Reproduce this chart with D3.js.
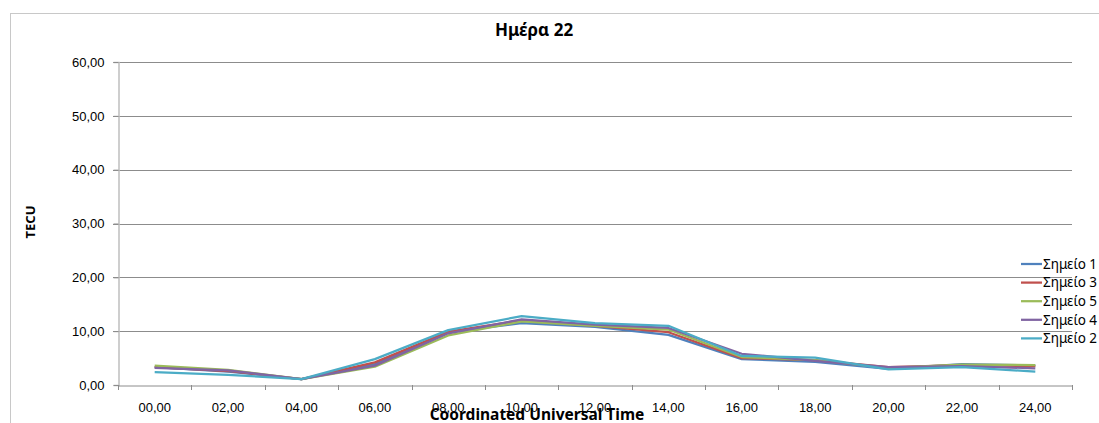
<!DOCTYPE html>
<html>
<head>
<meta charset="utf-8">
<script src="https://cdn.jsdelivr.net/npm/d3@7"></script>
<style>
  body { margin: 0; background: #fff; }
  svg { display: block; font-family: "Noto Sans", "Open Sans", sans-serif; }
</style>
</head>
<body>
<div id="chart"></div>
<script>
const hours = ["00,00", "02,00", "04,00", "06,00", "08,00", "10,00", "12,00",
               "14,00", "16,00", "18,00", "20,00", "22,00", "24,00"]

const point1 = [3.3, 2.5, 1.1, 3.9, 9.8, 11.5, 10.8, 9.3, 4.8, 4.3, 3.0, 3.9, 3.6]
const point3 = [3.3, 2.6, 1.1, 4.2, 9.9, 12.0, 11.0, 9.8, 5.0, 4.6, 3.3, 3.7, 3.5]
const point5 = [3.6, 2.8, 1.1, 3.4, 9.2, 11.8, 11.0, 10.3, 5.2, 4.6, 3.2, 3.8, 3.7]
const point4 = [3.2, 2.7, 1.1, 3.6, 9.6, 12.2, 11.2, 10.6, 5.8, 4.5, 3.3, 3.5, 3.1]
const point2 = [2.4, 1.9, 1.1, 4.8, 10.2, 12.8, 11.5, 11.0, 5.4, 5.1, 2.9, 3.3, 2.5]

const yTicks = [0, 10, 20, 30, 40, 50, 60]

const series = [
  { name: "Σημείο 1", color: "#4F81BD", values: point1 },
  { name: "Σημείο 3", color: "#C0504D", values: point3 },
  { name: "Σημείο 5", color: "#9BBB59", values: point5 },
  { name: "Σημείο 4", color: "#8064A2", values: point4 },
  { name: "Σημείο 2", color: "#4BACC6", values: point2 }
]

const width = 1099
const height = 423
const margin = { top: 62, right: 27, bottom: 38, left: 118 }

const svg = d3.select("#chart")
  .append("svg")
  .attr("width", width)
  .attr("height", height)

// Outer chart border
svg.append("rect")
  .attr("x", 10.5).attr("y", 13.5)
  .attr("width", 1100).attr("height", 420)
  .attr("fill", "none")
  .attr("stroke", "#c8c8c8")

const x = d3.scaleBand()
  .domain(hours)
  .range([margin.left, width - margin.right])

const y = d3.scaleLinear()
  .domain([0, 60])
  .range([height - margin.bottom, margin.top])

const fmt = d => d3.format(".2f")(d).replace(".", ",")

// Gridlines
svg.append("g")
  .selectAll("line")
  .data(yTicks.filter(d => d > 0))
  .join("line")
  .attr("x1", margin.left - 5)
  .attr("x2", width - margin.right)
  .attr("y1", d => Math.round(y(d)) + 0.5)
  .attr("y2", d => Math.round(y(d)) + 0.5)
  .attr("stroke", "#8c8c8c")

// Y axis
const yAxis = svg.append("g")
  .attr("transform", `translate(${margin.left + 0.5},0)`)
  .call(d3.axisLeft(y).tickValues(yTicks).tickSize(5).tickFormat(fmt))
yAxis.select(".domain").attr("stroke", "#bfbfbf").attr("stroke-width", 1.5)
yAxis.selectAll(".tick line").attr("stroke", "#8c8c8c")
yAxis.selectAll("text")
  .attr("x", -14)
  .attr("font-size", 13)
  .attr("fill", "#000")

// X axis
const xAxis = svg.append("g")
  .attr("transform", `translate(0,${Math.round(y(0)) + 0.5})`)
  .call(d3.axisBottom(x).tickSize(0).tickFormat(d => d))
xAxis.select(".domain").attr("stroke", "#8c8c8c")
xAxis.selectAll("text")
  .attr("dy", 0)
  .attr("y", 26)
  .attr("font-size", 13)
  .attr("fill", "#000")

// Category boundary tick marks
const bounds = hours.map(h => x(h)).concat([x(hours[hours.length - 1]) + x.bandwidth()])
svg.append("g")
  .selectAll("line")
  .data(bounds)
  .join("line")
  .attr("x1", d => Math.round(d) + 0.5)
  .attr("x2", d => Math.round(d) + 0.5)
  .attr("y1", y(0))
  .attr("y2", y(0) + 5)
  .attr("stroke", "#8c8c8c")

// Lines
const line = d3.line()
  .x((d, i) => x(hours[i]) + x.bandwidth() / 2)
  .y(d => y(d))

svg.append("g")
  .selectAll("path")
  .data(series)
  .join("path")
  .attr("d", d => line(d.values))
  .attr("fill", "none")
  .attr("stroke", d => d.color)
  .attr("stroke-width", 2.25)
  .attr("stroke-linejoin", "round")

// Title
svg.append("text")
  .attr("x", 534)
  .attr("y", 36)
  .attr("text-anchor", "middle")
  .attr("font-size", 17)
  .attr("font-weight", "bold")
  .text("Ημέρα 22")

// Axis titles
svg.append("text")
  .attr("transform", "translate(35,222) rotate(-90)")
  .attr("text-anchor", "middle")
  .attr("font-size", 13)
  .attr("font-weight", "bold")
  .text("TECU")

svg.append("text")
  .attr("x", 537)
  .attr("y", 420)
  .attr("text-anchor", "middle")
  .attr("font-size", 15.5)
  .attr("font-weight", "bold")
  .text("Coordinated Universal Time")

// Legend
const legend = svg.append("g")
  .selectAll("g")
  .data(series)
  .join("g")
  .attr("transform", (d, i) => `translate(1021,${264 + i * 18.6})`)

legend.append("line")
  .attr("x1", 0).attr("x2", 21)
  .attr("stroke", d => d.color)
  .attr("stroke-width", 2.25)

legend.append("text")
  .attr("x", 22)
  .attr("dy", "0.35em")
  .attr("font-size", 13.5)
  .text(d => d.name)
</script>
</body>
</html>
